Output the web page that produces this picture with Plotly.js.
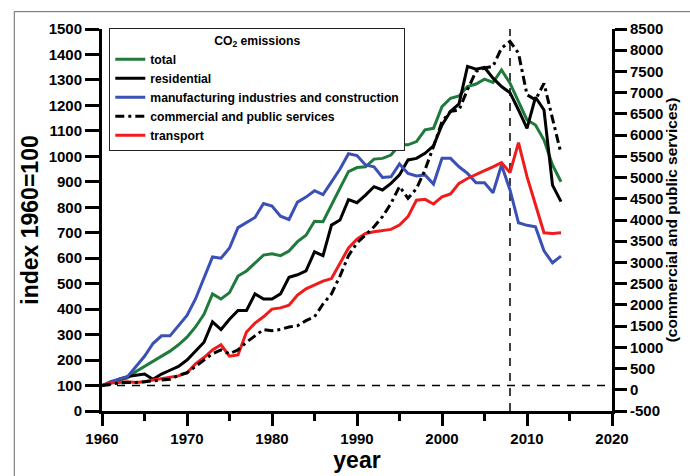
<!DOCTYPE html>
<html>
<head>
<meta charset="utf-8">
<script src="https://cdn.plot.ly/plotly-3.0.1.min.js"></script>
<style>html,body{margin:0;padding:0;background:#fff;}#chart{width:690px;height:476px;}</style>
</head>
<body>
<div id="chart"></div>
<script>
const years = [1960,1961,1962,1963,1964,1965,1966,1967,1968,1969,
  1970,1971,1972,1973,1974,1975,1976,1977,1978,1979,
  1980,1981,1982,1983,1984,1985,1986,1987,1988,1989,
  1990,1991,1992,1993,1994,1995,1996,1997,1998,1999,
  2000,2001,2002,2003,2004,2005,2006,2007,2008,2009,
  2010,2011,2012,2013,2014];

const total = [100,110,120,130,155,175,195,215,235,260,
  290,330,380,460,440,465,530,550,580,612,
  617,610,628,665,690,745,743,812,875,940,
  956,959,989,992,1005,1045,1045,1058,1104,1110,
  1195,1228,1237,1274,1284,1303,1290,1339,1287,1215,
  1143,1123,1064,966,900];

const residential = [100,110,125,135,140,145,125,145,160,175,
  200,235,270,350,320,360,395,395,460,440,
  440,460,525,535,550,625,610,730,750,830,
  818,848,881,868,894,927,986,992,1012,1041,
  1123,1176,1206,1353,1342,1349,1307,1274,1250,1182,
  1110,1232,1182,887,822];

const manufacturing = [100,115,125,135,175,215,265,295,295,335,
  375,440,520,605,600,640,720,740,760,815,
  805,765,752,820,840,865,850,900,950,1010,
  1003,966,959,917,920,970,933,923,927,891,
  992,992,959,933,896,896,857,966,868,739,
  729,723,629,582,608];

const commercial = [100,130,160,172,172,190,208,220,250,340,
  400,550,700,850,940,850,940,1120,1270,1420,
  1390,1420,1480,1510,1630,1720,2020,2260,2680,3160,
  3460,3640,3840,4080,4390,4790,4510,4740,5180,5730,
  6320,6560,6590,7070,7500,7580,7620,8050,8210,7930,
  6950,6830,7220,6390,5570];

const transport = [100,110,112,115,112,115,122,128,132,138,
  150,185,210,240,260,215,220,310,345,370,
  400,405,415,455,480,495,510,520,583,640,
  675,697,704,708,713,730,763,828,831,813,
  841,852,894,913,927,944,959,975,936,1054,
  920,809,700,697,700];

const rightTickVals = [-500,0,500,1000,1500,2000,2500,3000,3500,4000,4500,5000,5500,6000,6500,7000,7500,8000,8500];
const rightTickText = ['-500','0','500','1000','1500','2000','2500','3000','3500','4000','4500','5000','5500','6000','6500','7000','7500','8000','8500'];

const baseIndex = 100;
const markYear = 2008;

const fam = 'Liberation Sans, Arial, sans-serif';

const traces = [
  {x: years, y: total, name: 'total', mode: 'lines', line: {color: '#1f7a3c', width: 3}},
  {x: years, y: residential, name: 'residential', mode: 'lines', line: {color: '#000000', width: 3}},
  {x: years, y: manufacturing, name: 'manufacturing industries and construction', mode: 'lines', line: {color: '#3a50b4', width: 3}},
  {x: years, y: commercial, name: 'commercial and public services', mode: 'lines', yaxis: 'y2', line: {color: '#000000', width: 3, dash: '9px,4px,3px,4px'}},
  {x: years, y: transport, name: 'transport', mode: 'lines', line: {color: '#ee1c1c', width: 3}}
];

const tickFont = {family: fam, size: 15, weight: 'bold', color: '#000'};

const layout = {
  width: 690, height: 476,
  margin: {l: 102, r: 78, t: 29, b: 65, pad: 0},
  paper_bgcolor: '#fff', plot_bgcolor: '#fff',
  showlegend: true,
  legend: {
    x: 0.0143, y: 1.003, xanchor: 'left', yanchor: 'top',
    bgcolor: '#fff', bordercolor: '#222', borderwidth: 1,
    font: {family: fam, size: 12.2, weight: 'bold', color: '#000'},
    title: {text: 'CO<sub>2</sub> emissions', side: 'top center', font: {family: fam, size: 12.2, weight: 'bold', color: '#000'}},
    itemwidth: 30, tracegroupgap: 0
  },
  xaxis: {
    range: [1960, 2020], dtick: 10, tick0: 1960,
    showline: true, linecolor: '#000', linewidth: 3,
    ticks: 'outside', ticklen: 12, tickwidth: 3, tickcolor: '#000',
    minor: {dtick: 5, ticks: 'outside', ticklen: 7, tickwidth: 3, tickcolor: '#000', showgrid: false},
    showgrid: false, zeroline: false,
    tickfont: tickFont,
    title: {text: 'year', font: {family: fam, size: 23, weight: 'bold', color: '#000'}, standoff: 2}
  },
  yaxis: {
    range: [0, 1500], dtick: 100, tick0: 0,
    showline: true, linecolor: '#000', linewidth: 3,
    ticks: 'outside', ticklen: 14, tickwidth: 3, tickcolor: '#000',
    showgrid: false, zeroline: false,
    tickfont: tickFont,
    title: {text: 'index 1960=100', font: {family: fam, size: 23, weight: 'bold', color: '#000'}, standoff: 4}
  },
  yaxis2: {
    range: [-500, 8500], tickvals: rightTickVals, ticktext: rightTickText,
    overlaying: 'y', side: 'right',
    showline: true, linecolor: '#000', linewidth: 3,
    ticks: 'outside', ticklen: 12, tickwidth: 3, tickcolor: '#000',
    showgrid: false, zeroline: false,
    tickfont: tickFont,
    title: {text: '(commercial and public services)', font: {family: fam, size: 15.5, weight: 'bold', color: '#000'}, standoff: 4}
  },
  shapes: [
    {type: 'line', xref: 'x', yref: 'y', x0: 1960, x1: 2020, y0: baseIndex, y1: baseIndex,
     line: {color: '#000', width: 1.5, dash: '8px,7px'}, layer: 'below'},
    {type: 'line', xref: 'x', yref: 'paper', x0: markYear, x1: markYear, y0: 0, y1: 1,
     line: {color: '#000', width: 1.5, dash: '8px,7px'}, layer: 'below'},
    {type: 'rect', xref: 'paper', yref: 'paper', x0: -0.172, x1: 1.3, y0: -0.3, y1: 1.0454,
     line: {color: '#666', width: 1}, fillcolor: 'rgba(0,0,0,0)', layer: 'below'}
  ]
};

Plotly.newPlot('chart', traces, layout, {displayModeBar: false, staticPlot: true});
</script>
</body>
</html>
